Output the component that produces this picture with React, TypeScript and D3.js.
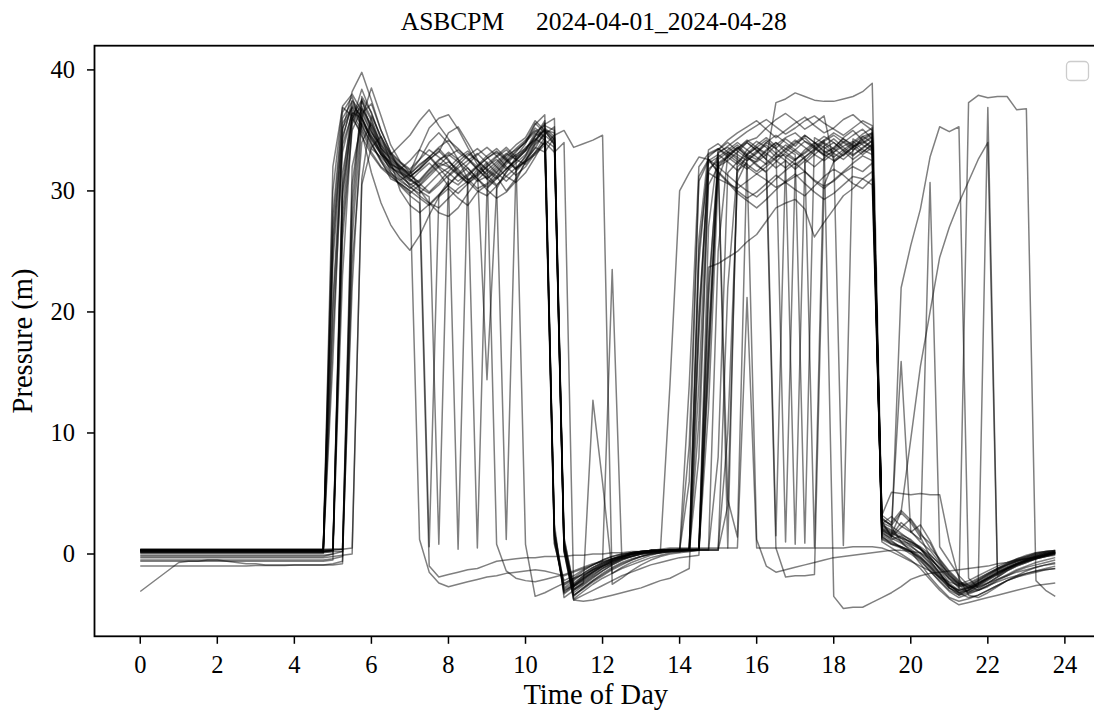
import React from 'react';
import * as d3 from 'd3';

const chartTitle = 'ASBCPM     2024-04-01_2024-04-28';
const xLabel = 'Time of Day';
const yLabel = 'Pressure (m)';
const xTicks = [0, 2, 4, 6, 8, 10, 12, 14, 16, 18, 20, 22, 24];
const yTicks = [0, 10, 20, 30, 40];
const stepHours = 0.25; // 15-minute samples, 96 per day

const day01 = [0.4,0.4,0.4,0.4, 0.4,0.4,0.4,0.4, 0.4,0.4,0.4,0.4, 0.4,0.4,0.4,0.4, 0.4,0.4,0.4,0.4,
 28,36.5,37.8,35.2, 33.5,32.8,31.9,31.5, 31.0,30.4,31.2,32.0, 32.4,31.8,30.9,31.3, 32.0,32.6,31.8,32.5, 33.4,34.8,34.2,2.0,
 -2.8,-2.2,-1.6,-1.1, -0.7,-0.4,-0.2,0.0, 0.1,0.2,0.2,0.3, 0.3,0.3,20,31.5, 31.0,30.6,30.2,30.8, 31.4,30.9,30.3,30.7, 31.2,31.6,30.9,30.4, 30.8,31.5,32.0,31.6,
 32.3,1.8,1.2,1.5, 0.9,0.4,-0.3,-1.2, -2.0,-2.5,-2.2,-1.8, -1.4,-1.0,-0.7,-0.4, -0.2,0.0,0.1,0.2];
const day02 = [0.3,0.3,0.3,0.3, 0.3,0.3,0.3,0.3, 0.3,0.3,0.3,0.3, 0.3,0.3,0.3,0.3, 0.3,0.3,0.3,0.3,
 26,35.0,38.2,39.8, 37.5,35.0,33.2,31.6, 30.4,29.6,29.0,28.6, 29.4,30.2,30.8,30.0, 29.6,30.4,31.5,32.8, 33.9,35.5,36.3,1.5,
 -3.0,-2.6,-1.9,-1.3, -0.9,-0.5,-0.2,0.1, 0.2,0.3,0.3,0.3, 0.4,0.4,0.4,15, 33.2,33.6,33.0,32.5, 33.1,34.0,33.5,34.3, 33.7,34.6,34.0,33.2, 33.5,34.4,35.0,34.2,
 33.6,2.4,2.0,1.6, 1.2,0.5,-0.6,-1.5, -2.8,-3.2,-2.9,-2.4, -1.9,-1.4,-1.0,-0.6, -0.3,0.0,0.2,0.3];
const day03 = [0.2,0.2,0.2,0.2, 0.2,0.2,0.2,0.2, 0.2,0.2,0.2,0.2, 0.2,0.2,0.2,0.2, 0.2,0.2,0.2,0.2,
 0.3,31.5,36.0,34.8, 31.5,29.0,27.2,26.0, 25.1,26.3,28.0,29.5, 30.2,29.4,28.8,29.9, 30.5,31.2,30.0,31.0, 32.4,33.6,33.2,34.4,
 0.5,-3.5,-2.8,-2.2, -1.6,-1.1,-0.7,-0.4, -0.2,0.0,0.1,0.2, 0.2,0.2,0.3,23.7, 24.0,24.5,25.0,25.8, 26.4,27.5,28.6,29.0, 29.3,28.5,26.2,27.4, 28.5,29.6,30.2,31.0,
 30.5,2.6,2.2,1.0, 0.2,-0.8,-1.9,-2.8, -3.6,-3.9,-3.7,-3.4, -3.0,-2.6,-2.2,-1.9, -1.6,-1.4,-1.2,-1.0];
const day04 = [0.35,0.35,0.35,0.35, 0.35,0.35,0.35,0.35, 0.35,0.35,0.35,0.35, 0.35,0.35,0.35,0.35, 0.35,0.35,0.35,0.35,
 24,34.5,37.0,36.2, 34.0,32.5,31.0,30.6, 30.0,1.2,-1.5,-2.4, -2.7,-2.5,-2.3,-2.1, -1.9,-1.8,-1.6,-1.5, -1.4,-1.3,-1.4,-1.6,
 -1.8,-1.5,-1.2,-0.9, -0.6,-0.4,-0.2,0.0, 0.1,0.2,0.3,0.3, 0.3,14,32.0,33.1, 33.5,32.8,32.2,33.4, 34.1,33.6,32.8,33.0, 32.5,33.4,34.0,33.6, 33.1,32.6,33.3,34.5,
 34.8,1.5,0.8,0.6, 0.2,-0.5,-1.4,-2.2, -3.0,-3.4,-3.0,-2.7, -2.4,-2.1,-1.8,-1.5, -1.3,-1.1,-0.9,-0.8];
const day05 = [0.1,0.1,0.1,0.1, 0.1,0.1,0.1,0.1, 0.1,0.1,0.1,0.1, 0.1,0.1,0.1,0.1, 0.1,0.1,0.1,0.1,
 0.2,30.5,37.2,36.0, 34.2,33.0,32.4,31.6, 31.1,31.9,32.8,33.5, 32.6,31.4,30.7,31.8, 14.4,30.2,31.6,32.3, 33.0,34.2,35.0,33.8,
 1.0,-3.2,-2.6,-2.0, -1.4,-0.9,-0.5,-0.2, 0.0,0.1,0.2,0.3, 0.3,0.3,0.4,27, 33.4,34.2,34.8,35.3, 35.8,35.1,34.4,35.0, 35.6,36.1,35.4,34.8, 35.2,35.9,36.3,35.6,
 35.0,2.8,2.4,3.4, 2.6,1.4,-0.2,-1.3, -2.4,-3.0,-2.7,-2.2, -1.7,-1.3,-0.9,-0.6, -0.4,-0.2,0.0,0.1];
const day06 = [0.3,0.3,0.3,0.3, 0.3,0.3,0.3,0.3, 0.3,0.3,0.3,0.3, 0.3,0.3,0.3,0.3, 0.3,0.3,0.3,0.3,
 20,33.8,36.4,35.0, 33.2,32.0,31.4,30.8, 30.3,29.8,30.6,31.4, 31.9,32.7,33.3,32.5, 31.8,31.2,32.4,33.0, 33.5,34.3,33.8,34.6,
 35.0,33.6,33.9,34.2, 34.6,-2.5,-2.0,-1.4, -0.9,-0.5,-0.2,0.0, 0.1,0.2,0.3,18, 32.6,33.2,33.8,33.0, 32.6,33.4,34.0,33.5, 33.0,0.9,34.4,33.9, 33.2,33.7,34.1,33.4,
 33.0,2.2,1.8,1.3, 0.7,0.0,-0.8,-1.7, -2.6,-3.1,-2.8,-2.3, -1.8,-1.3,-0.9,-0.5, -0.2,0.1,0.2,0.3];
const day07 = [0.25,0.25,0.25,0.25, 0.25,0.25,0.25,0.25, 0.25,0.25,0.25,0.25, 0.25,0.25,0.25,0.25, 0.25,0.25,0.25,0.25,
 0.3,27,35.5,37.4, 35.8,33.6,32.2,31.8, 32.5,33.4,32.9,32.0, 31.5,30.8,31.4,32.1, 32.9,33.5,32.7,31.9, 32.8,34.0,35.2,34.5,
 0.8,-2.9,-2.4,-1.8, -1.2,-0.8,-0.4,-0.1, 0.1,0.2,0.3,0.3, 0.4,0.4,11,30.5, 32.0,32.5,33.2,34.0, 33.4,32.6,37.3,37.6, 38.1,37.8,37.5,37.4, 37.4,37.6,37.8,38.2,
 38.9,3.0,2.3,1.7, 1.1,0.4,-0.5,-1.6, -2.6,-3.2,-3.0,-2.5, -2.0,-1.5,-1.1,-0.7, -0.4,-0.1,0.1,0.2];
const day08 = [-0.1,-0.1,-0.1,-0.1, -0.1,-0.1,-0.1,-0.1, -0.1,-0.1,-0.1,-0.1, -0.1,-0.1,-0.1,-0.1, -0.1,-0.1,-0.1,-0.1,
 0.0,0.2,32.0,35.6, 34.4,33.0,32.1,31.2, 30.5,30.9,31.8,32.6, 33.0,32.4,31.6,30.8, 31.2,32.0,32.9,33.4, 34.0,34.9,35.4,35.0,
 1.2,-2.6,-2.0,-1.5, -1.0,-0.6,-0.3,0.0, 0.2,0.3,0.4,0.5, 0.5,0.5,0.5,0.5, 0.5,0.5,0.5,21.2, 0.5,0.5,0.5,0.5, 0.5,0.5,0.5,0.5, 0.5,0.5,0.6,0.6,
 0.6,0.5,0.2,-0.2, -0.6,-1.0,-1.4,-1.9, -2.3,-2.6,-2.4,-2.0, -1.6,-1.2,-0.9,-0.6, -0.4,-0.2,0.0,0.1];
const day09 = [-0.5,-0.5,-0.5,-0.5, -0.5,-0.5,-0.5,-0.5, -0.5,-0.5,-0.5,-0.5, -0.5,-0.5,-0.5,-0.5, -0.5,-0.5,-0.5,-0.5,
 -0.4,-0.2,30.5,36.8, 35.2,33.4,32.0,31.2, 30.6,30.0,29.5,0.8, 31.2,31.9,32.5,33.1, 32.3,31.5,30.8,31.6, 32.5,33.8,34.6,33.9,
 0.4,-3.4,-2.8,-2.2, -1.7,-1.2,-0.8,-0.5, -0.2,0.0,0.1,0.2, 0.2,0.3,0.3,0.3, 8,31.5,32.4,33.0, 33.6,33.1,32.5,31.9, 32.6,33.2,33.9,34.5, 34.0,33.4,32.9,33.6,
 34.1,1.4,1.0,0.6, 0.2,-0.4,-1.2,-2.0, -2.6,-3.0,37.3,37.9, 37.7,37.8,37.8,36.7, 36.8,-2.2,-3.0,-3.5];
const day10 = [0.15,0.15,0.15,0.15, 0.15,0.15,0.15,0.15, 0.15,0.15,0.15,0.15, 0.15,0.15,0.15,0.15, 0.15,0.15,0.15,0.15,
 0.2,0.2,22,36.0, 38.5,36.2,33.8,32.4, 31.5,32.6,34.0,34.8, 33.9,32.6,31.0,30.2, 30.6,31.5,32.4,33.2, 34.1,35.6,34.8,0.9,
 -2.6,-2.1,-1.6,-1.1, -0.7,-0.4,-0.1,0.1, 0.2,0.3,0.3,0.4, 0.4,0.4,0.4,0.4, 25,33.0,33.6,32.8, 32.1,31.6,32.4,33.2, 33.9,34.4,33.6,32.9, 33.2,34.0,34.6,35.1,
 34.3,2.0,1.5,1.1, 0.8,0.4,-0.1,-0.8, -1.6,-2.4,-2.8,-2.5, 36.9,-1.5,-1.2,-0.9, -0.6,-0.3,-0.1,0.1];
const day11 = [0.3,0.3,0.3,0.3, 0.3,0.3,0.3,0.3, 0.3,0.3,0.3,0.3, 0.3,0.3,0.3,0.3, 0.3,0.3,0.3,0.3,
 16,35.2,36.8,35.5, 33.8,32.6,31.5,30.9, 31.4,32.2,32.8,31.9, 31.0,30.5,31.3,32.0, 32.7,33.2,32.5,31.8, 32.9,34.5,35.8,1.2,
 -3.1,-2.5,-1.8,-1.2, -0.8,-0.4,-0.1,0.1, 0.2,0.3,0.3,0.3, 0.3,6,31.2,32.6, 31.6,30.8,30.0,29.4, 29.9,30.6,31.3,30.7, 30.1,29.6,30.4,31.2, 31.8,31.3,30.6,30.2,
 31.0,2.1,1.6,3.5, 9.5,15.5,20.0,24.5, 27.0,29.0,30.8,32.6, 34.0,-1.8,-1.2,-0.8, -0.5,-0.2,0.0,0.2];
const day12 = [0.2,0.2,0.2,0.2, 0.2,0.2,0.2,0.2, 0.2,0.2,0.2,0.2, 0.2,0.2,0.2,0.2, 0.2,0.2,0.2,0.2,
 0.3,0.4,29,37.8, 36.5,34.2,33.0,33.8, 34.6,35.8,36.7,35.4, 34.3,33.2,32.6,31.8, 31.0,30.4,1.2,31.7, 32.6,33.5,34.9,34.0,
 0.6,-2.7,-2.2,-1.6, -1.1,-0.7,-0.3,0.0, 0.1,0.2,0.3,0.3, 0.3,0.3,24,33.0, 33.4,34.0,33.3,32.7, 32.4,33.0,33.8,34.4, 34.8,34.1,33.5,33.0, 33.6,34.3,33.8,33.2,
 33.9,1.9,1.4,22.0, 25.5,28.5,32.8,35.3, 34.9,35.3,-2.0,-2.8, -2.4,-1.9,-1.4,-1.0, -0.7,-0.4,-0.1,0.1];
const day13 = [-3.1,-2.5,-1.9,-1.3, -0.7,-0.6,-0.6,-0.5, -0.5,-0.6,-0.7,-0.8, -0.8,-0.9,-0.9,-0.9, -0.9,-0.9,-0.9,-0.9,
 -0.8,-0.6,24,34.0, 35.6,33.4,32.0,31.4, 30.8,31.6,32.3,31.5, 30.4,29.8,30.6,31.4, 32.2,32.9,33.6,32.8, 33.4,34.5,35.0,34.2,
 0.2,-3.8,-3.4,-3.0, -2.6,-2.2,-1.8,-1.5, -1.2,-0.9,-0.7,-0.5, -0.3,-0.2,-0.1,16, 32.0,32.8,33.5,34.2, 33.6,32.9,1.5,32.8, 33.4,34.1,33.7,33.0, 32.5,33.2,33.9,34.5,
 34.0,1.0,0.5,0.0, -0.5,-1.2,-2.1,-3.0, -3.7,-4.2,-4.0,-3.8, -3.6,-3.4,-3.2,-3.0, -2.8,-2.6,-2.5,-2.4];
const day14 = [0.3,0.3,0.3,0.3, 0.3,0.3,0.3,0.3, 0.3,0.3,0.3,0.3, 0.3,0.3,0.3,0.3, 0.3,0.3,0.3,0.3,
 27,36.0,37.4,36.0, 34.6,33.2,31.6,30.4, 29.6,29.0,-1.0,-1.9, -1.7,-1.5,-1.3,-1.2, -0.9,-0.6,-0.5,-0.4, -0.3,-0.3,-0.2,-0.2,
 -0.2,-0.1,-0.1,0.0, 0.0,0.1,0.1,0.2, 0.2,0.2,0.3,0.3, 0.3,0.3,0.4,21, 33.1,33.7,34.3,34.9, 35.4,35.9,35.3,34.7, 35.2,35.8,36.2,35.6, 35.1,34.6,35.2,35.8,
 35.4,2.5,3.1,2.3, 1.8,2.4,1.1,-0.5, -1.5,-2.3,-2.6,-2.2, -1.7,-1.2,-0.8,-0.4, -0.1,0.1,0.2,0.3];
const day15 = [-0.2,-0.2,-0.2,-0.2, -0.2,-0.2,-0.2,-0.2, -0.2,-0.2,-0.2,-0.2, -0.2,-0.2,-0.2,-0.2, -0.2,-0.2,-0.2,-0.2,
 0.0,29.5,36.2,37.5, 35.0,33.0,31.8,31.0, 30.2,30.8,31.7,32.5, 33.2,32.6,31.9,31.0, 30.3,31.1,32.2,33.0, 0.8,-3.5,-3.2,-2.8,
 -2.4,-2.0,-1.7,-1.3, -1.0,-0.7,-0.4,-0.2, 0.0,0.1,0.2,0.3, 0.3,0.3,0.3,12, 31.0,33.2,32.8,32.2, 31.6,32.3,33.1,33.8, 33.2,32.6,32.0,32.7, 33.4,34.1,33.6,33.0,
 33.6,1.6,1.1,0.5, 0.0,-0.6,-1.4,-2.3, -3.1,-3.6,-3.3,-3.0, -2.6,-2.3,-2.0,-1.8, -1.6,-1.4,-1.3,-1.2];
const day16 = [0.35,0.35,0.35,0.35, 0.35,0.35,0.35,0.35, 0.35,0.35,0.35,0.35, 0.35,0.35,0.35,0.35, 0.35,0.35,0.35,0.35,
 30,37.0,38.0,36.6, 34.9,33.5,32.7,32.0, 31.5,33.4,35.2,36.0, 36.3,35.1,33.6,32.2, 31.3,30.5,31.2,31.9, 32.4,33.2,34.4,1.8,
 -2.5,-2.0,-1.4,-0.9, -0.5,-0.2,0.0,0.1, 0.2,0.3,0.3,0.3, 0.3,9,30.8,32.5, 33.0,32.4,31.7,32.3, 1.2,-1.0,-1.5,-1.3, -1.1,-0.9,-0.7,-0.5, -0.3,-0.2,-0.1,0.0,
 0.1,0.2,0.3,0.3, 0.2,0.1,-0.4,-1.1, -1.8,-2.4,-2.7,-2.4, -2.0,-1.6,-1.2,-0.9, -0.6,-0.4,-0.2,0.0];
const day17 = [0.2,0.2,0.2,0.2, 0.2,0.2,0.2,0.2, 0.2,0.2,0.2,0.2, 0.2,0.2,0.2,0.2, 0.2,0.2,0.2,0.2,
 0.3,28,36.6,35.4, 33.9,32.4,31.3,30.5, 29.8,30.5,31.4,32.1, 32.9,33.4,32.7,31.8, 31.0,31.8,32.7,33.5, 34.2,35.0,34.4,1.6,
 -3.3,-2.7,-2.1,-1.5, -1.0,-0.6,-0.3,0.0, 0.1,0.2,0.3,0.3, 0.3,0.4,19,32.8, 33.5,33.0,32.4,31.8, 32.5,33.3,34.0,33.2, 32.6,33.1,33.7,34.2, -3.5,-4.5,-4.4,-4.4,
 -4.0,-3.6,-3.2,-2.7, -2.1,-1.8,-1.6,-1.5, -1.4,-1.3,-1.2,-1.1, -1.0,-0.8,-0.7,-0.5, -0.4,-0.3,-0.1,0.0];
const day18 = [-0.3,-0.3,-0.3,-0.3, -0.3,-0.3,-0.3,-0.3, -0.3,-0.3,-0.3,-0.3, -0.3,-0.3,-0.3,-0.3, -0.3,-0.3,-0.3,-0.3,
 -0.2,-0.1,0.0,31, 36.2,34.5,33.0,32.1, 31.3,30.6,29.9,30.7, 31.6,32.4,33.1,32.5, 31.7,31.0,31.8,32.6, 33.6,34.2,35.1,34.3,
 0.9,-2.9,-2.3,-1.7, -1.2,-0.8,-0.4,-0.1, 0.1,0.2,0.2,0.3, 0.3,0.3,0.3,17, 32.3,32.9,33.6,32.9, 32.2,31.5,0.5,-1.9, -1.8,-1.8,-1.7,30.5, 32.4,33.0,33.6,34.1,
 33.5,2.3,1.9,1.4, 1.0,0.5,-0.3,-1.2, -2.1,-2.7,-2.5,-2.1, -1.6,-1.2,-0.8,-0.5, -0.3,-0.1,0.1,0.2];
const day19 = [0.25,0.25,0.25,0.25, 0.25,0.25,0.25,0.25, 0.25,0.25,0.25,0.25, 0.25,0.25,0.25,0.25, 0.25,0.25,0.25,0.25,
 25,35.6,36.9,35.8, 34.5,33.2,32.3,31.7, 31.0,30.4,0.6,29.6, 30.8,0.4,31.2,32.0, 32.7,33.3,32.6,31.8, 32.5,33.9,34.7,35.3,
 1.4,-2.7,-2.1,-1.5, -1.0,-0.6,-0.3,0.0, 0.1,0.2,0.2,0.3, 0.3,0.3,8,31.6, 32.8,0.5,33.4,34.0, 33.3,32.6,31.9,32.5, 0.8,32.3,33.0,33.7, 34.3,33.6,33.0,33.5,
 34.2,2.7,1.5,2.6, 1.9,1.0,0.3,-0.7, -1.8,-2.6,-3.1,-2.9, -2.4,-1.9,-1.4,-1.0, -0.7,-0.4,-0.2,0.0];
const day20 = [0.4,0.4,0.4,0.4, 0.4,0.4,0.4,0.4, 0.4,0.4,0.4,0.4, 0.4,0.4,0.4,0.4, 0.4,0.4,0.4,0.4,
 0.4,0.4,0.5,30.5, 33.6,34.5,32.4,30.0, 28.8,28.2,28.9,29.7, 30.5,31.3,31.9,31.0, 30.1,29.4,29.9,30.8, 32.4,33.0,33.8,0.8,
 -2.2,-1.8,-1.3,-0.9, -0.5,-0.2,0.0,0.1, 0.2,0.3,0.3,0.4, 0.4,0.4,0.4,0.4, 0.4,10,30.8,32.5, 33.2,33.8,33.1,32.5, 31.8,32.5,33.3,34.0, 33.5,32.9,33.6,34.2,
 34.7,1.2,0.8,0.5, 0.2,-0.3,-1.0,-1.8, -2.6,-3.0,-2.8,-2.4, -2.0,-1.6,-1.2,-0.8, -0.5,-0.3,-0.1,0.1];
const day21 = [0.15,0.15,0.15,0.15, 0.15,0.15,0.15,0.15, 0.15,0.15,0.15,0.15, 0.15,0.15,0.15,0.15, 0.15,0.15,0.15,0.15,
 32,36.9,36.2,34.5, 33.0,31.9,31.2,30.6, 30.0,29.4,28.8,29.6, 30.5,31.4,32.2,33.0, 33.6,32.9,32.0,31.3, 32.0,33.1,34.0,33.2,
 34.0,-3.0,-2.5,-1.9, -1.4,-0.9,-0.5,-0.2, 0.0,0.1,0.2,14, 30.0,31.5,32.8,32.6, 32.0,31.3,30.6,30.0, 29.5,30.2,31.0,31.7, 32.3,31.6,30.8,30.2, 30.9,31.6,32.3,32.9,
 32.5,3.2,2.6,3.6, 2.8,1.6,0.9,-0.6, -1.7,-2.5,-2.9,-2.6, -2.1,-1.6,-1.2,-0.8, -0.5,-0.2,0.0,0.2];
const day22 = [0.3,0.3,0.3,0.3, 0.3,0.3,0.3,0.3, 0.3,0.3,0.3,0.3, 0.3,0.3,0.3,0.3, 0.3,0.3,0.3,0.3,
 21,34.2,37.5,36.4, 34.8,33.8,32.8,32.0, 31.3,30.7,31.5,32.3, 32.0,31.3,30.6,31.2, 32.0,32.8,33.4,32.6, 33.3,34.6,35.6,1.9,
 -3.2,-2.6,-2.0,-1.4, -0.9,-0.5,-0.2,0.0, 0.1,0.2,0.3,0.3, 0.3,0.3,25,32.3, 32.8,33.4,34.0,33.4, 32.8,32.2,32.8,33.5, 34.2,33.6,33.0,32.5, 33.1,0.7,34.3,33.8,
 33.3,3.2,5.1,5.0, 4.9,5.0,4.9,4.9, 1.0,-2.0,-3.4,-3.6, -3.2,-2.7,-2.2,-1.8, -1.4,-1.1,-0.9,-0.7];
const day23 = [-0.6,-0.6,-0.6,-0.6, -0.6,-0.6,-0.6,-0.6, -0.6,-0.6,-0.6,-0.6, -0.6,-0.6,-0.6,-0.6, -0.6,-0.6,-0.6,-0.6,
 -0.5,26,35.0,36.8, 35.5,34.0,32.9,31.9, 31.2,31.8,32.6,33.3, 32.5,31.6,30.9,31.5, 32.4,0.8,-1.4,-2.0, -2.2,-2.3,-2.1,-1.9,
 -1.7,-1.4,-1.1,-0.8, -0.6,23.5,-0.4,-0.2, 0.0,0.1,0.2,0.2, 0.3,0.3,0.3,0.3, 0.3,4,31.5,33.0, 33.6,34.2,33.5,32.8, 32.2,32.8,33.4,34.1, 34.6,34.0,33.4,33.9,
 34.4,1.7,1.3,0.9, 0.4,-0.2,-1.0,-1.9, -2.8,-3.4,-3.2,-2.7, -2.2,-1.7,-1.3,-0.9, -0.6,-0.3,-0.1,0.1];
const day24 = [0.2,0.2,0.2,0.2, 0.2,0.2,0.2,0.2, 0.2,0.2,0.2,0.2, 0.2,0.2,0.2,0.2, 0.2,0.2,0.2,0.2,
 0.3,30.0,36.0,37.0, 35.3,33.6,32.5,31.8, 31.2,31.8,32.6,33.2, 34.8,35.3,34.0,32.6, 31.0,31.6,32.5,33.3, 34.0,35.2,34.5,2.5,
 -3.6,-3.0,-2.4,12.7, 5.9,-1.6,-1.1,-0.7, -0.4,-0.1,0.1,0.2, 0.3,0.3,0.3,22, 32.2,32.8,33.5,34.1, 34.4,35.2,35.9,36.4, 35.8,35.1,35.6,36.2, 32.4,33.0,33.7,34.3,
 34.8,2.6,1.4,2.2, 2.9,1.8,0.5,-0.4, -1.4,-2.2,-2.8,-2.6, -2.1,-1.7,-1.3,-0.9, -0.6,-0.4,-0.2,-0.1];
const day25 = [0.3,0.3,0.3,0.3, 0.3,0.3,0.3,0.3, 0.3,0.3,0.3,0.3, 0.3,0.3,0.3,0.3, 0.3,0.3,0.3,0.3,
 0.3,23,35.8,38.4, 36.4,34.4,33.1,32.3, 31.7,30.1,29.0,28.2, 27.9,28.6,29.8,30.9, 31.7,32.4,33.1,32.6, 32.2,33.2,34.0,1.3,
 -2.9,-2.4,-1.8,-1.3, -0.8,-0.5,-0.2,0.0, 0.1,0.2,0.3,0.3, 0.3,0.3,14,31.8, 32.5,4.5,1.4,33.1, 33.8,34.4,33.7,1.0, 32.0,32.8,0.6,33.5, 34.0,33.3,32.6,33.2,
 33.8,1.3,0.9,0.6, 0.3,-0.3,-1.1,-2.0, -2.8,-3.3,-3.0,-2.5, -2.0,-1.5,-1.1,-0.8, -0.5,-0.3,-0.1,0.1];
const day26 = [0.05,0.05,0.05,0.05, 0.05,0.05,0.05,0.05, 0.05,0.05,0.05,0.05, 0.05,0.05,0.05,0.05, 0.05,0.05,0.05,0.05,
 18,33.2,36.5,36.0, 34.3,33.1,32.2,31.5, 30.9,30.3,29.8,30.5, 31.3,32.1,32.9,33.5, 32.8,32.0,31.2,30.7, 31.5,32.8,34.2,33.6,
 0.3,-3.4,-2.9,-2.3, -1.8,-1.3,-0.9,-0.5, -0.2,0.0,0.1,0.2, 0.2,0.3,26,33.4, 33.9,33.2,32.6,32.0, 31.4,32.0,32.7,33.4, 34.0,34.6,34.0,33.3, 32.8,33.4,34.0,34.7,
 35.2,2.9,2.4,15.9, 1.8,1.2,30.7,0.6, -0.6,-1.8,-2.6,-3.0, -2.7,-2.2,-1.8,-1.4, -1.1,-0.9,-0.7,-0.5];
const day27 = [0.35,0.35,0.35,0.35, 0.35,0.35,0.35,0.35, 0.35,0.35,0.35,0.35, 0.35,0.35,0.35,0.35, 0.35,0.35,0.35,0.35,
 0.4,0.4,26,36.4, 37.2,35.0,33.2,32.4, 31.8,32.6,33.4,32.8, 32.1,31.4,30.7,0.5, 30.2,31.0,31.8,32.5, 33.3,34.1,35.5,36.0,
 0.2,-3.7,-3.1,-2.5, -2.0,-1.6,-1.2,-0.9, -0.6,-0.3,-0.1,0.1, 0.2,0.3,0.3,0.3, 0.3,22,32.0,32.7, 33.3,34.0,34.6,34.0, 33.4,32.8,33.5,34.2, 34.8,34.3,33.7,34.0,
 34.5,2.1,1.7,1.3, 1.0,0.6,0.0,-0.9, -2.0,-2.8,-3.2,-3.0, -2.6,-2.1,-1.7,-1.3, -1.0,-0.7,-0.5,-0.3];
const day28 = [-1.0,-1.0,-1.0,-1.0, -1.0,-1.0,-1.0,-1.0, -1.0,-1.0,-1.0,-1.0, -0.95,-0.95,-0.95,-0.95, -0.9,-0.9,-0.9,-0.9,
 -0.9,-0.8,27.5,37.6, 36.0,33.8,32.6,31.9, 31.4,32.1,32.8,33.6, 34.2,33.5,32.7,32.0, 31.4,32.2,33.0,33.8, 34.4,35.8,35.0,34.8,
 1.0,-3.8,-3.9,-3.8, -3.6,-3.4,-3.2,-3.0, -2.8,-2.5,-2.2,-2.0, -1.6,-1.2,18,32.6, 31.5,30.7,29.8,29.2, 28.6,29.3,30.1,30.8, 31.4,30.6,29.9,29.3, 29.8,30.5,31.2,31.0,
 31.6,2.0,1.5,1.0, 0.6,0.1,-0.7,-1.6, -2.5,-3.2,-3.6,-3.4, -3.0,-2.6,-2.2,-1.9, -1.7,-1.5,-1.3,-1.2];

const days = [day01, day02, day03, day04, day05, day06, day07, day08, day09, day10,
  day11, day12, day13, day14, day15, day16, day17, day18, day19, day20,
  day21, day22, day23, day24, day25, day26, day27, day28];

const W = 1094;
const H = 714;
const LEFT = 94.5, RIGHT = 1101, TOP = 45.7, BOTTOM = 636.3;

export default function App() {
  const x = d3.scaleLinear().domain([-1.1875, 24.9375]).range([LEFT, RIGHT]);
  const y = d3.scaleLinear().domain([-6.8, 42.0]).range([BOTTOM, TOP]);
  const line = d3.line<number>().x((_, i) => x(i * stepHours)).y((d) => y(d));
  const font = "'Liberation Serif', 'Times New Roman', Times, serif";
  const cx = (LEFT + RIGHT) / 2;

  return (
    <svg width={W} height={H} viewBox={`0 0 ${W} ${H}`}
      style={{ position: 'absolute', left: 0, top: 0, background: '#fff' }}
      fontFamily={font}>
      <defs>
        <clipPath id="plotArea">
          <rect x={LEFT} y={TOP} width={RIGHT - LEFT} height={BOTTOM - TOP} />
        </clipPath>
      </defs>
      <rect x={0} y={0} width={W} height={H} fill="#fff" />
      <g clipPath="url(#plotArea)">
        {days.map((d, k) => (
          <path key={k} d={line(d) || ''} fill="none" stroke="#000" strokeOpacity={0.5}
            strokeWidth={1.5} strokeLinejoin="round" strokeLinecap="butt" />
        ))}
      </g>
      <rect x={1066.5} y={61.5} width={22} height={19} rx={4} ry={4} fill="#fff"
        stroke="#cccccc" strokeWidth={1.3} />
      <rect x={LEFT} y={TOP} width={RIGHT - LEFT} height={BOTTOM - TOP} fill="none"
        stroke="#000" strokeWidth={1.8} />
      {xTicks.map((t) => (
        <g key={'x' + t}>
          <line x1={x(t)} x2={x(t)} y1={BOTTOM} y2={BOTTOM + 7.5} stroke="#000" strokeWidth={1.5} />
          <text x={x(t)} y={673} textAnchor="middle" fontSize={24.5} fill="#000">{t}</text>
        </g>
      ))}
      {yTicks.map((t) => (
        <g key={'y' + t}>
          <line x1={LEFT - 7.5} x2={LEFT} y1={y(t)} y2={y(t)} stroke="#000" strokeWidth={1.5} />
          <text x={75} y={y(t)} dy="0.34em" textAnchor="end" fontSize={24.5} fill="#000">{t}</text>
        </g>
      ))}
      <text x={cx - 2} y={704} textAnchor="middle" fontSize={28.5} fill="#000">{xLabel}</text>
      <text transform={`translate(32,${(TOP + BOTTOM) / 2}) rotate(-90)`} textAnchor="middle"
        fontSize={28.5} fill="#000">{yLabel}</text>
      <text x={cx - 4} y={29.5} textAnchor="middle" fontSize={25.5} fill="#000"
        style={{ whiteSpace: 'pre' }}>{chartTitle}</text>
    </svg>
  );
}
